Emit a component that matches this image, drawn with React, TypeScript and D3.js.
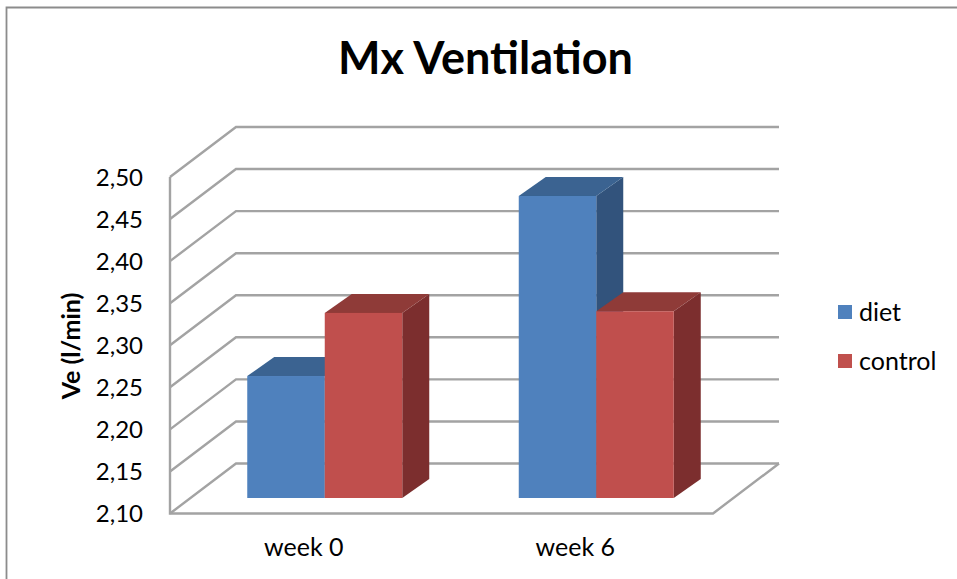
import React from "react";
import * as d3 from "d3";

const categories = ["week 0", "week 6"];
const dietValues = [2.245, 2.459];
const controlValues = [2.32, 2.322];
const tickValues = [2.1, 2.15, 2.2, 2.25, 2.3, 2.35, 2.4, 2.45, 2.5];
const seriesNames = ["diet", "control"];

const W = 957, H = 579;
const FONT = "Lato, 'Open Sans', sans-serif";
const y = d3.scaleLinear().domain([2.1, 2.5]).range([513.5, 177]);
const x = d3.scaleBand<string>().domain(categories).range([170, 713]);
const wall = { dx: 66, dy: -50 };
const plane = { dx: 19, dy: -15.5 };
const depth = { dx: 27, dy: -19 };
const barWidth = 77.5;
const GRID = "#a3a3a3";

const colors = [
  { front: "#4f81bd", top: "#3a6391", side: "#31537c" },
  { front: "#c0504d", top: "#8f3a38", side: "#7b2f2e" },
];
const poly = d3.line();

function Bar({ cat, value, idx }: { cat: string; value: number; idx: number }) {
  const c = colors[idx];
  const cx = x(cat)! + x.bandwidth() / 2 + plane.dx;
  const x0 = cx + (idx === 0 ? -barWidth : 0);
  const x1 = x0 + barWidth;
  const yb = y(2.1) + plane.dy;
  const yt = y(value) + plane.dy;
  const d = depth;
  return (
    <g>
      <path fill={c.side} d={poly([[x1, yt], [x1 + d.dx, yt + d.dy], [x1 + d.dx, yb + d.dy], [x1, yb]])!} />
      <path fill={c.top} d={poly([[x0, yt], [x0 + d.dx, yt + d.dy], [x1 + d.dx, yt + d.dy], [x1, yt]])!} />
      <rect x={x0} y={yt} width={barWidth} height={yb - yt} fill={c.front} />
    </g>
  );
}

export default function App() {
  const fmt = (v: number) => v.toFixed(2).replace(".", ",");
  return (
    <svg width={W} height={H} viewBox={`0 0 ${W} ${H}`} style={{ position: "absolute", left: 0, top: 0, display: "block", background: "#fff" }}>
      <defs>
        <filter id="soft" x="-5%" y="-5%" width="110%" height="110%">
          <feGaussianBlur stdDeviation="0.5" />
        </filter>
      </defs>
      <path d={poly([[W, 7.5], [6.5, 7.5], [6.5, H]])!} fill="none" stroke="#8c8c8c" strokeWidth={1.8} />
      <text x={485.5} y={74} textAnchor="middle" fontFamily={FONT} fontWeight={700} fontSize={45} fill="#000">Mx Ventilation</text>
      <g filter="url(#soft)">
        {tickValues.map((t) => {
          const yy = y(t);
          return (
            <path key={t} fill="none" stroke={GRID} strokeWidth={2.4}
              d={poly([[170, yy], [170 + wall.dx, yy + wall.dy], [713 + wall.dx, yy + wall.dy]])!} />
          );
        })}
        <path fill="none" stroke={GRID} strokeWidth={2.4}
          d={poly([[170, y(2.5)], [170, y(2.1)], [713, y(2.1)], [713 + wall.dx, y(2.1) + wall.dy]])!} />
        {categories.map((cat, i) => (
          <g key={cat}>
            <Bar cat={cat} value={dietValues[i]} idx={0} />
            <Bar cat={cat} value={controlValues[i]} idx={1} />
          </g>
        ))}
      </g>
      {tickValues.map((t) => (
        <text key={t} x={143} y={y(t) + 8.5} textAnchor="end" fontFamily={FONT} fontSize={24} fill="#000">{fmt(t)}</text>
      ))}
      {categories.map((cat) => (
        <text key={cat} x={x(cat)! + x.bandwidth() / 2 - 2} y={555.5} textAnchor="middle" fontFamily={FONT} fontSize={25} fill="#000">{cat}</text>
      ))}
      <text transform="translate(80,346) rotate(-90)" textAnchor="middle" fontFamily={FONT} fontWeight={700} fontSize={25} fill="#000">Ve (l/min)</text>
      {seriesNames.map((s, i) => (
        <g key={s}>
          <rect x={838} y={305 + i * 49} width={14} height={14} fill={colors[i].front} />
          <text x={859} y={320.5 + i * 49} fontFamily={FONT} fontSize={25} fill="#000">{s}</text>
        </g>
      ))}
    </svg>
  );
}
